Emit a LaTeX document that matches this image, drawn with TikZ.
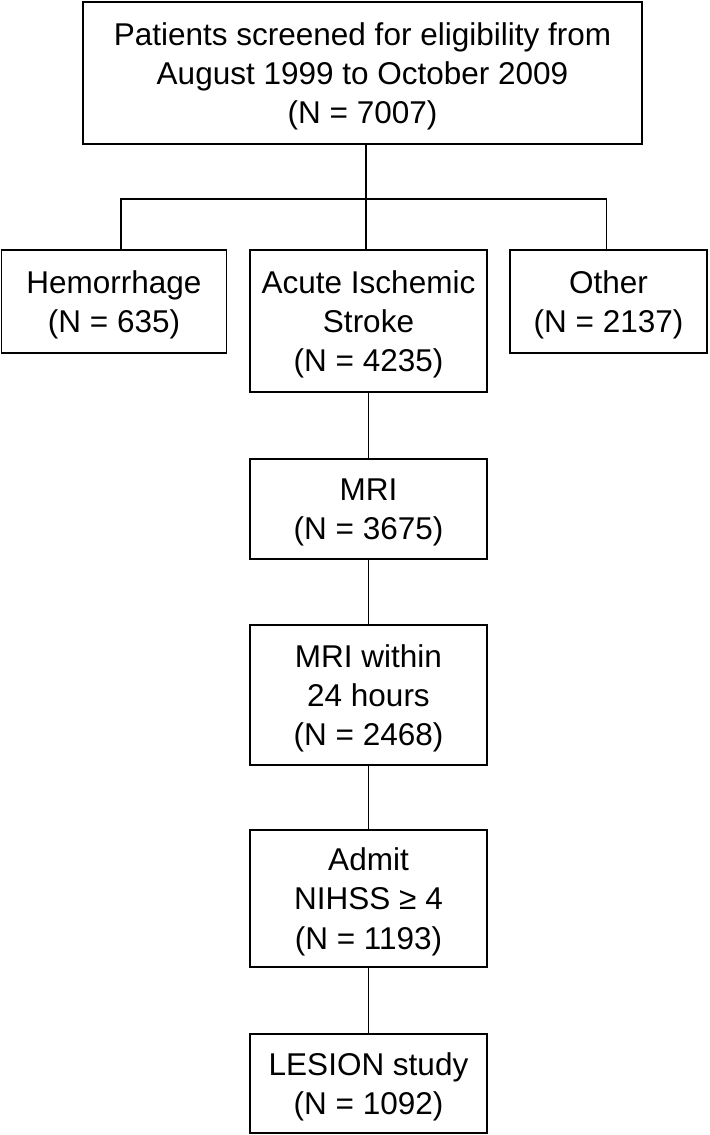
\documentclass[tikz,border=0pt]{standalone}
\usepackage{fontspec}
\setmainfont{Liberation Sans}
\begin{document}
\begin{tikzpicture}[x=0.025cm, y=-0.025cm,
        box/.style={draw, line width=1.1pt, align=center, inner sep=0pt,
            font=\fontsize{22.4}{28}\selectfont, text depth=-3.7pt},
        link/.style={line width=1.2pt}]
        \useasboundingbox (0, 0) rectangle (709, 1135);
        \node[box, minimum width=559*0.025cm, minimum height=142*0.025cm] (screened) at (362.5, 73) {Patients screened for eligibility from\\August 1999 to October 2009\\(N = 7007)};
        \node[box, minimum width=225*0.025cm, minimum height=103*0.025cm] (hemorrhage) at (114, 301.5) {Hemorrhage\\(N = 635)};
        \node[box, minimum width=237*0.025cm, minimum height=142*0.025cm] (ischemic) at (368.5, 321) {Acute Ischemic\\Stroke\\(N = 4235)};
        \node[box, minimum width=197*0.025cm, minimum height=103*0.025cm] (other) at (608.5, 301.5) {Other\\(N = 2137)};
        \node[box, minimum width=237*0.025cm, minimum height=100*0.025cm] (mri) at (368.5, 509) {MRI\\(N = 3675)};
        \node[box, minimum width=237*0.025cm, minimum height=140*0.025cm] (mriday) at (368.5, 695) {MRI within\\24 hours\\(N = 2468)};
        \node[box, minimum width=237*0.025cm, minimum height=137*0.025cm] (admit) at (368.5, 898.5) {Admit\\NIHSS ≥ 4\\(N = 1193)};
        \node[box, minimum width=237*0.025cm, minimum height=99*0.025cm] (lesion) at (368.5, 1083.5) {LESION study\\(N = 1092)};
        \coordinate (split) at (366, 199);
        \draw[link] (screened.south -| split) -- (split |- ischemic.north);
        \draw[link] ([xshift=7*0.025cm]hemorrhage.north) |- (split) -| ([xshift=-2*0.025cm]other.north);
        \draw[link] (ischemic) -- (mri);
        \draw[link] (mri) -- (mriday);
        \draw[link] (mriday) -- (admit);
        \draw[link] (admit) -- (lesion);
    \end{tikzpicture}
\end{document}
